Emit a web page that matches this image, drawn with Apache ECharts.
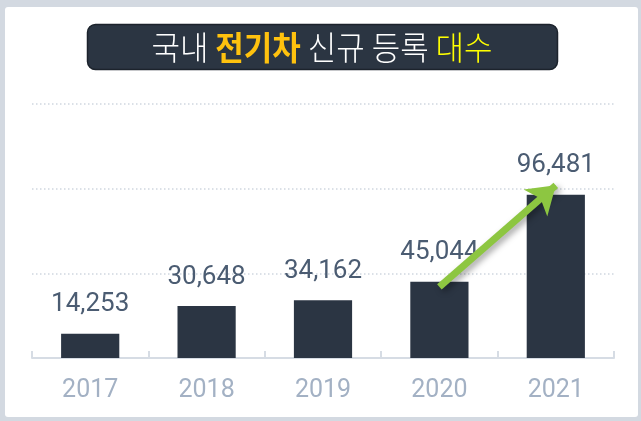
<!DOCTYPE html>
<html>
<head>
<meta charset="utf-8">
<script src="https://cdn.jsdelivr.net/npm/echarts@6/dist/echarts.min.js"></script>
<style>
  html, body { margin: 0; padding: 0; background: #d3d9e1; }
  #chart { width: 641px; height: 421px; }
</style>
</head>
<body>
<div id="chart"></div>
<script>
// 국내 전기차 신규 등록 대수
const years = ['2017', '2018', '2019', '2020', '2021'];
const registrations = [14253, 30648, 34162, 45044, 96481];
const yTicks = [0, 50000, 100000, 150000];
// 증가 화살표 (2020 -> 2021)
const arrowFrom = ['2020', 42000];
const arrowTo = ['2021', 102000];

const numFont = "'Liberation Sans Narrow', 'Roboto', sans-serif";
const chart = echarts.init(document.getElementById('chart'));

chart.setOption({
  backgroundColor: '#d3d9e1',
  animation: false,
  graphic: [
    {
      type: 'rect',
      z: -10,
      shape: { x: 5, y: 7, width: 633, height: 410, r: 3 },
      style: { fill: '#ffffff' }
    },
    {
      type: 'rect',
      shape: { x: 87.5, y: 24.5, width: 470, height: 45, r: 8 },
      style: { fill: '#2b3542', stroke: '#1c232c', lineWidth: 1.5 }
    },
    {
      type: 'text',
      x: 322,
      y: 47,
      scaleY: 1.08,
      style: {
        text: '{w|국내 }{o|전기차}{w| 신규 등록 }{y|대수}',
        align: 'center',
        verticalAlign: 'middle',
        rich: {
          w: { fill: '#ffffff', fontSize: 31, fontWeight: 300, fontFamily: 'Noto Sans CJK KR' },
          o: { fill: '#ffc20e', fontSize: 31, fontWeight: 'bold', fontFamily: 'Noto Sans CJK KR' },
          y: { fill: '#ffff00', fontSize: 31, fontWeight: 300, fontFamily: 'Noto Sans CJK KR' }
        }
      }
    }
  ],
  grid: { left: 32, right: 27, top: 104, bottom: 63 },
  xAxis: {
    type: 'category',
    data: years,
    axisLine: { lineStyle: { color: '#d6dce4', width: 2 } },
    axisTick: { show: true, inside: true, length: 7, lineStyle: { color: '#d6dce4', width: 2 } },
    axisLabel: { color: '#a3b1c4', fontSize: 25, fontFamily: numFont, margin: 20 }
  },
  yAxis: {
    type: 'value',
    min: yTicks[0],
    max: yTicks[yTicks.length - 1],
    interval: yTicks[1] - yTicks[0],
    axisLabel: { show: false },
    axisLine: { show: false },
    axisTick: { show: false },
    splitLine: { lineStyle: { color: '#cfd6df', type: [1.5, 2.5], width: 1.5 } }
  },
  series: [
    {
      type: 'bar',
      data: registrations,
      barWidth: '50%',
      itemStyle: { color: '#2b3543' },
      label: {
        show: true,
        position: 'top',
        distance: 16,
        color: '#4b5c72',
        fontSize: 26,
        fontFamily: numFont,
        formatter: (p) => p.value.toLocaleString('en-US')
      },
      markLine: {
        silent: true,
        symbol: ['none', 'arrow'],
        symbolSize: [27, 27],
        label: { show: false },
        lineStyle: {
          color: '#8dc641',
          width: 7,
          type: 'solid',
          shadowBlur: 6,
          shadowColor: 'rgba(0,0,0,0.35)',
          shadowOffsetX: 3,
          shadowOffsetY: 3
        },
        data: [[{ coord: arrowFrom }, { coord: arrowTo }]]
      }
    }
  ]
});
</script>
</body>
</html>
